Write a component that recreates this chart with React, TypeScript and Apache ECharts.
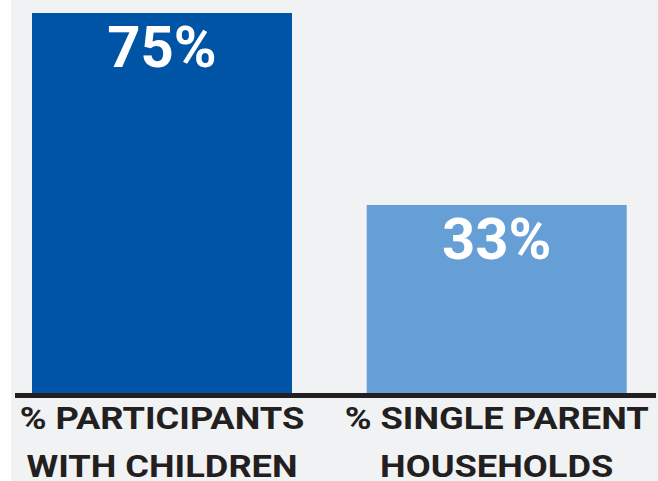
import React, { useEffect, useRef } from "react";
import * as echarts from "echarts";

const categories = ["% PARTICIPANTS\nWITH CHILDREN", "% SINGLE PARENT\nHOUSEHOLDS"];
const values = [75, 33];
const valueLabels = ["75%", "33%"];
const barColors = ["#0054a6", "#669fd6"];

export default function App() {
  const ref = useRef<HTMLDivElement>(null);
  useEffect(() => {
    if (!ref.current) return;
    const chart = echarts.init(ref.current, undefined, { renderer: "svg" });
    chart.setOption({
      animation: false,
      backgroundColor: "#f1f2f4",
      grid: { left: -16.35, right: -6.05, top: 13, bottom: 85.5, outerBoundsMode: "none", containLabel: false },
      xAxis: {
        type: "category",
        data: categories,
        axisLine: { show: false },
        axisTick: { show: false },
        axisLabel: { show: false },
      },
      yAxis: {
        type: "value",
        min: -8.67,
        max: 75,
        startValue: -8.67,
        show: false,
        splitLine: { show: false },
      },
      series: [
        {
          type: "bar",
          barWidth: 260,
          data: values.map((v, i) => ({
            value: v,
            itemStyle: { color: barColors[i] },
            label: { formatter: valueLabels[i] },
          })),
          label: {
            show: true,
            position: "insideTop",
            distance: 5,
            color: "#ffffff",
            fontFamily: "Roboto",
            fontWeight: "bold",
            fontSize: 58,
          },
        },
      ],
    });
    const baseY = chart.convertToPixel({ yAxisIndex: 0 }, -8.67) as number;
    const labelTexts: any[] = [];
    categories.forEach((c, i) => {
      const cx = chart.convertToPixel({ xAxisIndex: 0 }, i) as number;
      c.split("\n").forEach((line, j) => {
        labelTexts.push({
          type: "text",
          x: cx,
          y: baseY + 22.5 + j * 48.5,
          scaleX: 1.17,
          style: {
            text: line,
            align: "center",
            verticalAlign: "middle",
            fill: "#231f20",
            fontFamily: "Roboto",
            fontWeight: "bold",
            fontSize: 31,
            lineHeight: 24,
          },
        });
      });
    });
    chart.setOption({
      graphic: [
        {
          type: "line",
          shape: { x1: 4, y1: baseY, x2: 645, y2: baseY },
          style: { stroke: "#231f20", lineWidth: 5 },
          z: 10,
        },
        ...labelTexts,
      ],
    });
    return () => chart.dispose();
  }, []);
  return (
    <div
      ref={ref}
      style={{ position: "absolute", left: 11, top: 0, width: 647, height: 481 }}
    />
  );
}
